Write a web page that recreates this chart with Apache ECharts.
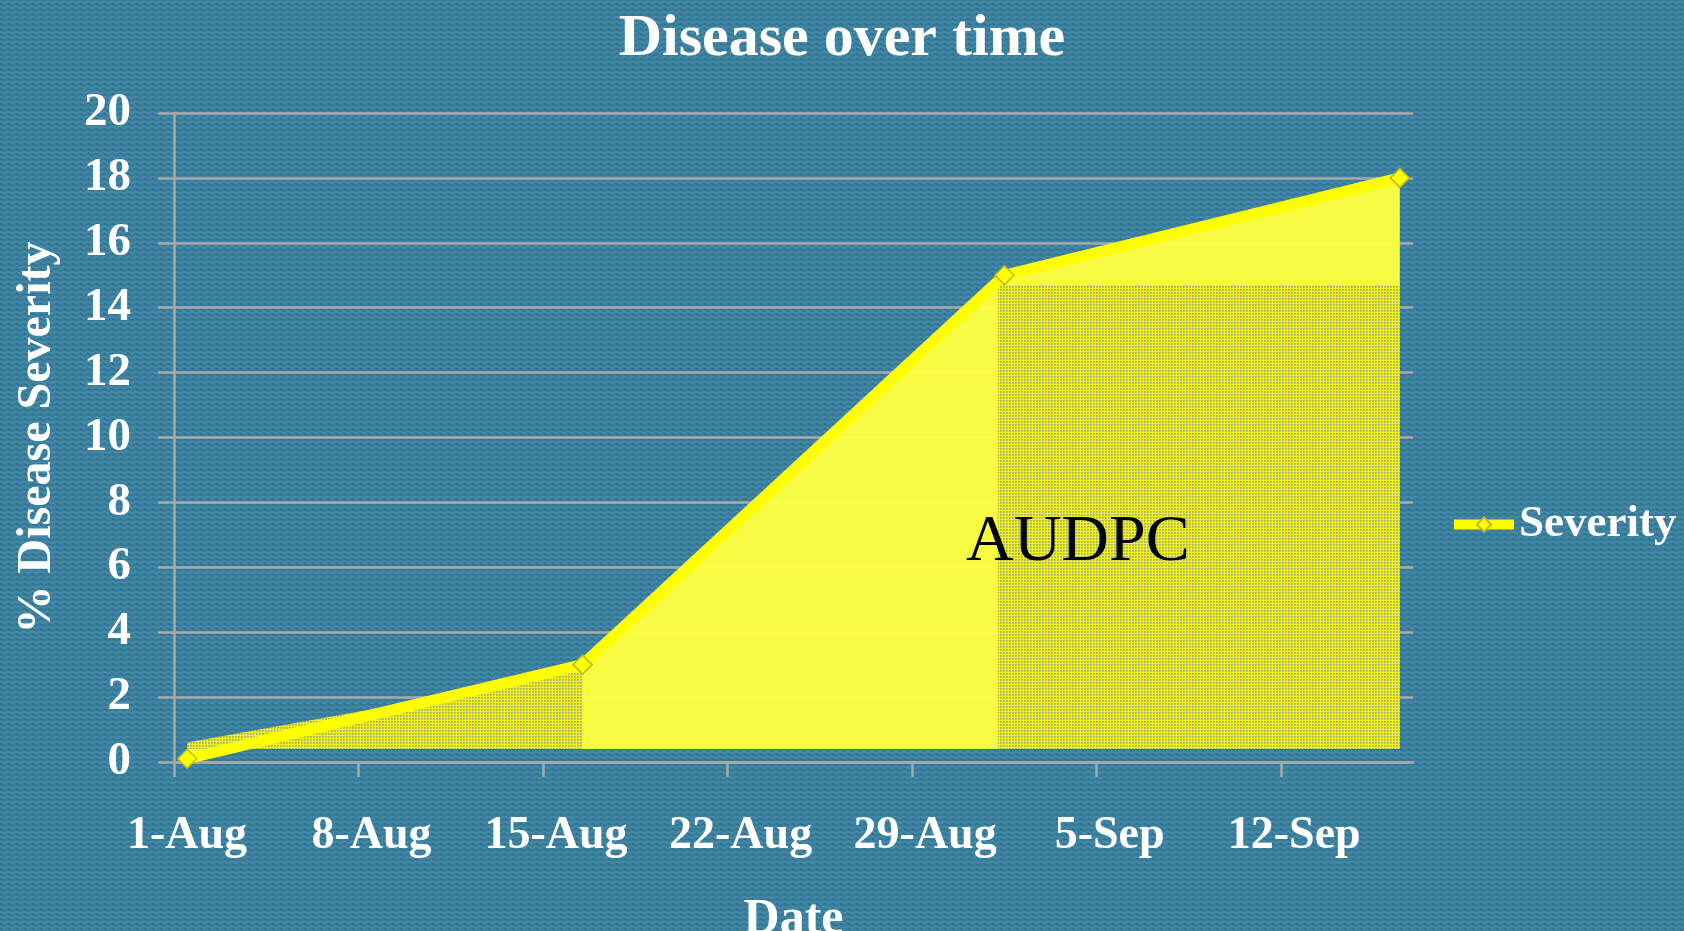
<!DOCTYPE html>
<html>
<head>
<meta charset="utf-8">
<script src="https://cdn.jsdelivr.net/npm/echarts@6/dist/echarts.min.js"></script>
<style>
  html, body { margin: 0; padding: 0; }
  #chart { width: 1684px; height: 931px; }
</style>
</head>
<body>
<div id="chart"></div>
<script>
// values
const obsDates = ['1-Aug', '16-Aug', '1-Sep', '16-Sep'];
const severity = [0.1, 3, 15, 18];
const xTickLabels = ['1-Aug', '8-Aug', '15-Aug', '22-Aug', '29-Aug', '5-Sep', '12-Sep'];
const yTickValues = [0, 2, 4, 6, 8, 10, 12, 14, 16, 18, 20];
// AUDPC shading: from observation, to observation, flat top (null = follow the line)
const hatchFrom = [0, 2];
const hatchTo = [1, 3];
const hatchTop = [null, 14.7];
const areaBase = 0.4;

const FONT = '"Liberation Serif", "Times New Roman", serif';
const GREY = '#a9a9a9';
const months = { Jul: 6, Aug: 7, Sep: 8, Oct: 9 };

function dayOffset(label) {
  const [d, m] = label.split('-');
  return (Date.UTC(2011, months[m], +d) - Date.UTC(2011, 7, 1)) / 86400000;
}
// excel date axis puts each day's point in the middle of its slot
const plotX = obsDates.map(d => dayOffset(d) + 0.5);
const tickDays = xTickLabels.map(dayOffset);
const lineData = plotX.map((x, i) => [x, severity[i]]);

function bgTile() {
  const c = document.createElement('canvas');
  c.width = 8; c.height = 5;
  const g = c.getContext('2d');
  g.fillStyle = '#387c9b';
  g.fillRect(0, 0, 8, 5);
  g.strokeStyle = '#4b8ead';
  g.lineWidth = 1.3;
  g.beginPath(); g.moveTo(0, 1); g.lineTo(4, 3.5); g.lineTo(8, 1); g.stroke();
  g.strokeStyle = '#2f6e8d';
  g.lineWidth = 1;
  g.beginPath(); g.moveTo(0, 3.5); g.lineTo(4, 6); g.stroke();
  return c.toDataURL();
}
document.getElementById('chart').style.background = 'url(' + bgTile() + ') repeat';

// fine yellow grid over a greyish fill, like the slide's hatch
function hatchTile() {
  const c = document.createElement('canvas');
  c.width = 3; c.height = 3;
  const g = c.getContext('2d');
  g.fillStyle = '#a9b764';
  g.fillRect(0, 0, 3, 3);
  g.fillStyle = '#f4f41c';
  g.fillRect(0, 0, 3, 1);
  g.fillRect(0, 0, 1, 3);
  g.fillStyle = '#cfd444';
  g.fillRect(2, 2, 1, 1);
  return c;
}
const hatchPattern = { image: hatchTile(), repeat: 'repeat' };

const chart = echarts.init(document.getElementById('chart'));

const option = {
  backgroundColor: 'transparent',
  animation: false,
  title: {
    text: 'Disease over time',
    left: 'center',
    top: 4,
    textStyle: { color: '#fff', fontFamily: FONT, fontWeight: 'bold', fontSize: 60 }
  },
  legend: {
    data: [{ name: 'Severity', lineStyle: { width: 10 } }],
    left: 1444,
    top: 497,
    itemWidth: 60,
    itemHeight: 18,
    itemGap: 4,
    textStyle: { color: '#fff', fontFamily: FONT, fontWeight: 'bold', fontSize: 45 }
  },
  grid: { left: 174, right: 271, top: 113, bottom: 169, outerBoundsMode: 'none', containLabel: false },
  xAxis: {
    type: 'value',
    min: 0,
    max: 47,
    interval: 7,
    name: 'Date',
    nameLocation: 'middle',
    nameGap: 133,
    nameTextStyle: { color: '#fff', fontFamily: FONT, fontWeight: 'bold', fontSize: 50 },
    axisLine: { lineStyle: { color: GREY, width: 2.5 } },
    axisTick: { show: true, length: 15, lineStyle: { color: GREY, width: 2.5 }, customValues: tickDays },
    axisLabel: {
      customValues: tickDays,
      formatter: v => xTickLabels[tickDays.indexOf(v)] || '',
      color: '#fff',
      fontFamily: FONT,
      fontWeight: 'bold',
      fontSize: 46,
      margin: 51,
      padding: [0, 0, 0, 26]
    },
    splitLine: { show: false }
  },
  yAxis: {
    type: 'value',
    min: 0,
    max: 20,
    interval: 2,
    name: '% Disease Severity',
    nameLocation: 'middle',
    nameRotate: 90,
    nameGap: 112,
    nameTextStyle: { color: '#fff', fontFamily: FONT, fontWeight: 'bold', fontSize: 48 },
    axisLine: { show: true, lineStyle: { color: GREY, width: 2.5 } },
    axisTick: { show: true, length: 16, lineStyle: { color: GREY, width: 2.5 } },
    axisLabel: {
      formatter: v => (yTickValues.indexOf(v) >= 0 ? String(v) : ''),
      color: '#fff',
      fontFamily: FONT,
      fontWeight: 'bold',
      fontSize: 47,
      margin: 43
    },
    splitLine: { show: true, lineStyle: { color: GREY, width: 2.5 } }
  },
  graphic: [{
    type: 'text',
    left: 966,
    top: 510,
    z: 100,
    style: { text: 'AUDPC', fill: '#000', font: '66px ' + FONT }
  }],
  series: [
    {
      name: 'area',
      type: 'line',
      data: lineData,
      showSymbol: false,
      symbol: 'none',
      lineStyle: { width: 0 },
      areaStyle: { color: '#ffff40', opacity: 0.96, origin: areaBase },
      silent: true,
      z: 1
    },
    {
      name: 'hatch',
      type: 'custom',
      data: hatchFrom.map((f, i) => [plotX[f], plotX[hatchTo[i]], hatchTop[i] == null ? severity[hatchTo[i]] : hatchTop[i]]),
      encode: { x: [0, 1], y: 2 },
      z: 2,
      silent: true,
      renderItem: (params, api) => {
        const i = params.dataIndex;
        const f = hatchFrom[i], t = hatchTo[i];
        let pts;
        if (hatchTop[i] == null) {
          pts = [
            api.coord([plotX[f], areaBase]),
            api.coord([plotX[f], Math.max(severity[f], areaBase) + 0.2]),
            api.coord([plotX[t], severity[t] - 0.2]),
            api.coord([plotX[t], areaBase])
          ];
        } else {
          pts = [
            api.coord([plotX[f] - 0.25, areaBase]),
            api.coord([plotX[f] - 0.25, hatchTop[i]]),
            api.coord([plotX[t], hatchTop[i]]),
            api.coord([plotX[t], areaBase])
          ];
        }
        return { type: 'polygon', shape: { points: pts }, style: { fill: hatchPattern } };
      }
    },
    {
      name: 'Severity',
      type: 'line',
      data: lineData,
      symbol: 'diamond',
      symbolSize: 19,
      lineStyle: { color: '#ffff00', width: 11 },
      itemStyle: { color: '#ffff00', borderColor: '#b9b92a', borderWidth: 1.5 },
      z: 3
    }
  ]
};

chart.setOption(option);
</script>
</body>
</html>
